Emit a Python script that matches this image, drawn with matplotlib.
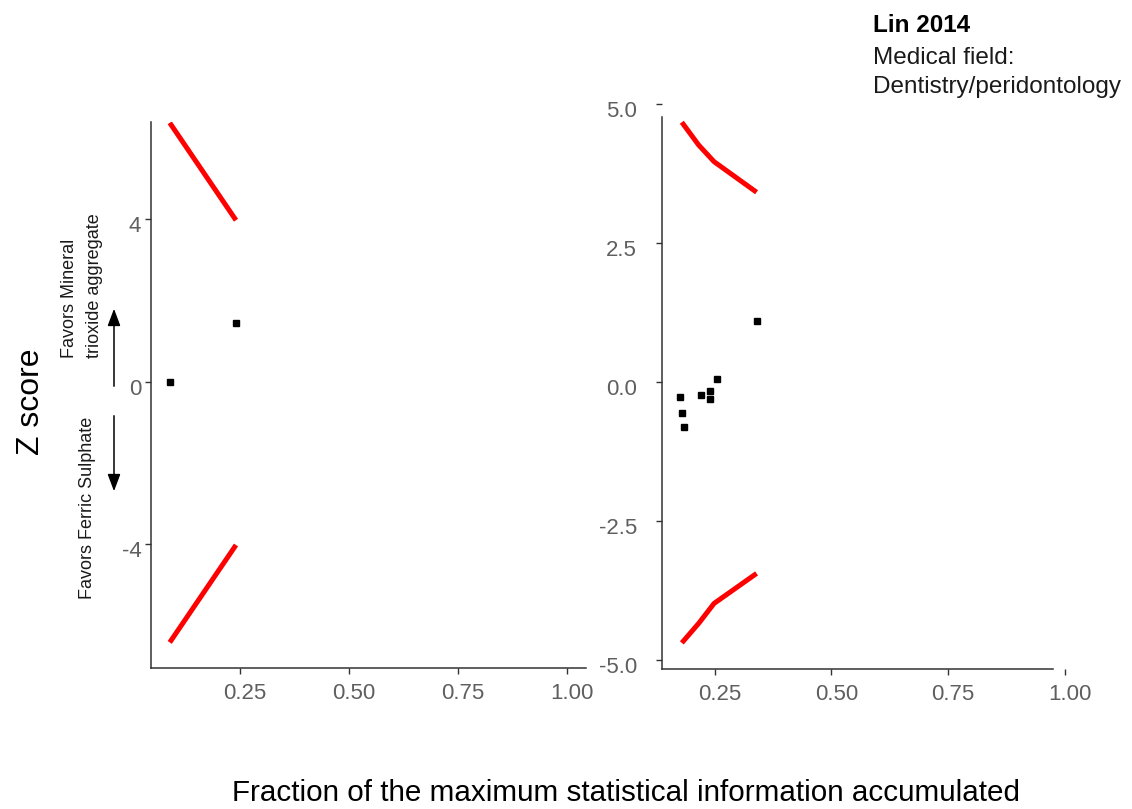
import matplotlib
matplotlib.use("Agg")
import matplotlib.pyplot as plt
from matplotlib.transforms import ScaledTranslation

plt.rcParams['font.family'] = ['Liberation Sans', 'DejaVu Sans']

# ---- data ----
left_x = [0.089, 0.242]
left_z = [0.0, 1.45]
left_bx = [0.089, 0.241]
left_upper = [6.38, 3.98]
left_lower = [-6.42, -4.02]
left_yticks = [-4, 0, 4]
left_yticklabels = ["-4", "0", "4"]

right_x = [0.177, 0.180, 0.184, 0.221, 0.241, 0.241, 0.255, 0.341]
right_z = [-0.28, -0.57, -0.81, -0.23, -0.16, -0.31, 0.05, 1.09]
right_bx = [0.180, 0.216, 0.249, 0.340]
right_upper = [4.67, 4.26, 3.96, 3.41]
right_lower = [-4.70, -4.35, -3.99, -3.45]
right_yticks = [-5.0, -2.5, 0.0, 2.5, 5.0]
right_yticklabels = ["-5.0", "-2.5", "0.0", "2.5", "5.0"]

xticks = [0.25, 0.50, 0.75, 1.00]
xticklabels = ["0.25", "0.50", "0.75", "1.00"]

W, H = 1132, 809
fig = plt.figure(figsize=(W / 100, H / 100), dpi=100)


def fx(px):
    return px / W


def fy(py):
    return 1 - py / H


tick_col = '#5f5f5f'
spine_col = '#333333'


def style(ax):
    for s in ['top', 'right']:
        ax.spines[s].set_visible(False)
    for s in ['left', 'bottom']:
        ax.spines[s].set_color(spine_col)
        ax.spines[s].set_linewidth(1.1)
    ax.tick_params(axis='both', colors=spine_col, labelcolor=tick_col,
                   labelsize=16, length=4, width=1.0)
    ax.set_xticks(xticks)
    ax.set_xticklabels(xticklabels)
    ax.tick_params(axis='x', pad=7)
    shx = ScaledTranslation(0.05, 0, fig.dpi_scale_trans)
    shy = ScaledTranslation(0, -0.05, fig.dpi_scale_trans)
    for lab in ax.get_xticklabels():
        lab.set_transform(lab.get_transform() + shx)
    for lab in ax.get_yticklabels():
        lab.set_transform(lab.get_transform() + shy)


# left panel
axL = fig.add_axes([fx(151), fy(668), fx(586 - 151), (668 - 122) / H])
axL.plot(left_bx, left_upper, color='#ff0000', lw=3.6, solid_capstyle='butt')
axL.plot(left_bx, left_lower, color='#ff0000', lw=3.6, solid_capstyle='butt')
axL.plot(left_x, left_z, 's', color='black', ms=4.2, ls='none')
axL.set_xlim(0.046, 1.044)
axL.set_ylim(-7.05, 6.40)
axL.set_yticks(left_yticks)
axL.set_yticklabels(left_yticklabels)
axL.tick_params(axis='y', pad=3)
style(axL)

# right panel
axR = fig.add_axes([fx(662), fy(669), fx(1070 - 662), (669 - 100) / H])
axR.plot(right_bx, right_upper, color='#ff0000', lw=3.6, solid_capstyle='butt')
axR.plot(right_bx, right_lower, color='#ff0000', lw=3.6, solid_capstyle='butt')
axR.plot(right_x, right_z, 's', color='black', ms=4.0, ls='none')
axR.set_xlim(0.1376, 1.0107)
axR.set_ylim(-5.17, 5.07)
axR.set_yticks(right_yticks)
axR.set_yticklabels(right_yticklabels)
axR.tick_params(axis='y', pad=14)
style(axR)
axR.spines['bottom'].set_bounds(0.1376, 0.974)
axR.spines['left'].set_bounds(-5.17, 4.76)

# axis titles
fig.text(fx(626), fy(793), "Fraction of the maximum statistical information accumulated",
         ha='center', va='center', fontsize=21.3, color='black')
fig.text(fx(31), fy(402), "Z score", rotation=90, ha='center', va='center',
         fontsize=23, color='black')

# direction annotations
fig.text(fx(82), fy(358), "Favors Mineral\ntrioxide aggregate", rotation=90,
         ha='center', va='bottom', multialignment='left', fontsize=13,
         color='#1a1a1a', linespacing=1.65)
fig.text(fx(88), fy(599), "Favors Ferric Sulphate", rotation=90,
         ha='center', va='bottom', fontsize=13, color='#1a1a1a')
arrow_kw = dict(arrowstyle='-|>,head_length=0.8,head_width=0.3', color='black', lw=1.1)
fig.add_artist(matplotlib.patches.FancyArrowPatch(
    (fx(114), fy(389)), (fx(114), fy(306)), transform=fig.transFigure,
    mutation_scale=13, **arrow_kw))
fig.add_artist(matplotlib.patches.FancyArrowPatch(
    (fx(114), fy(413)), (fx(114), fy(494)), transform=fig.transFigure,
    mutation_scale=13, **arrow_kw))

# top-right title
fig.text(fx(873), fy(14), "Lin 2014", ha='left', va='top', fontsize=17.5,
         fontweight='bold', color='black')
fig.text(fx(873), fy(47), "Medical field:\nDentistry/peridontology", ha='left', va='top',
         fontsize=17.5, color='#1a1a1a', linespacing=1.4)

fig.savefig("out.png", dpi=100)
